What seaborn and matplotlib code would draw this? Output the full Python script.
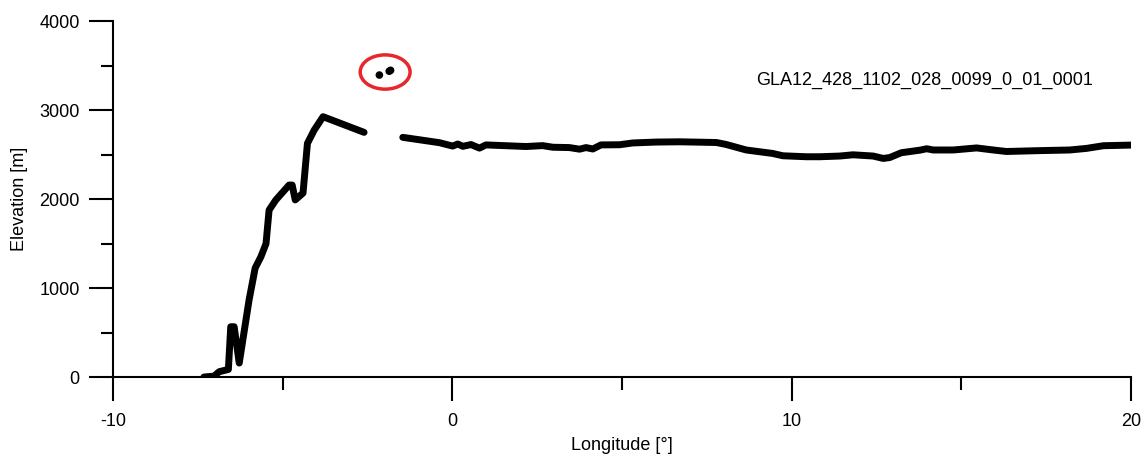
import numpy as np
import pandas as pd
import matplotlib
matplotlib.use("Agg")
import matplotlib.pyplot as plt
from matplotlib.patches import Ellipse
from matplotlib.ticker import MultipleLocator
import seaborn as sns

# profile west of the gap (climb onto the plateau)
lon_west = [-7.32, -7.02, -6.87, -6.60, -6.53, -6.43, -6.28, -5.99, -5.81, -5.64,
            -5.49, -5.40, -5.20, -4.81, -4.72, -4.63, -4.40, -4.27, -4.07, -3.81, -2.60]
elev_west = [0, 10, 60, 85, 565, 565, 157, 865, 1225, 1352,
             1500, 1876, 1990, 2157, 2157, 1990, 2067, 2625, 2775, 2925, 2749]

# profile east of the gap
lon_east = [-1.46, -0.38, 0.01, 0.16, 0.31, 0.55, 0.80, 0.99, 1.58, 2.17,
            2.66, 2.96, 3.45, 3.75, 3.94, 4.14, 4.38, 4.93, 5.32, 6.00,
            6.70, 7.78, 8.07, 8.66, 9.44, 9.74, 10.43, 10.83, 11.42, 11.81,
            12.40, 12.70, 12.89, 13.23, 13.78, 13.98, 14.17, 14.76, 15.45, 15.94,
            16.33, 17.22, 18.20, 18.69, 19.19, 20.00]
elev_east = [2693, 2633, 2595, 2618, 2592, 2612, 2572, 2608, 2599, 2590,
             2600, 2582, 2578, 2560, 2578, 2562, 2608, 2610, 2630, 2640,
             2643, 2635, 2613, 2551, 2512, 2486, 2475, 2475, 2483, 2497,
             2483, 2456, 2466, 2520, 2549, 2565, 2551, 2551, 2574, 2551,
             2534, 2543, 2551, 2569, 2599, 2606]

# outlier returns (circled)
lon_out = [-2.15, -1.86, -1.82]
elev_out = [3393, 3436, 3446]

track_name = "GLA12_428_1102_028_0099_0_01_0001"

sns.set_style("ticks")
plt.rcParams["font.family"] = ["Liberation Sans", "DejaVu Sans"]
plt.rcParams["axes.unicode_minus"] = False
for key in ["text.color", "axes.labelcolor", "xtick.color", "ytick.color", "axes.edgecolor"]:
    plt.rcParams[key] = "black"

profile = pd.DataFrame({
    "lon": lon_west + lon_east,
    "elev": elev_west + elev_east,
    "segment": ["west"] * len(lon_west) + ["east"] * len(lon_east),
})
outliers = pd.DataFrame({"lon": lon_out, "elev": elev_out})

fig = plt.figure(figsize=(11.46, 4.57), dpi=100)
ax = fig.add_axes([0.0986, 0.175, 0.8883, 0.779])

sns.lineplot(data=profile, x="lon", y="elev", units="segment", estimator=None,
             sort=False, color="black", linewidth=5, solid_capstyle="round",
             solid_joinstyle="round", ax=ax)
sns.scatterplot(data=outliers, x="lon", y="elev", color="black", s=30,
                edgecolor="none", ax=ax)

ax.add_patch(Ellipse((-1.98, 3427), 1.47, 385, fill=False, edgecolor="#e8262b",
                     linewidth=2.5))
ax.text(8.95, 3337, track_name, fontsize=13, va="center", ha="left")

ax.set_xlim(-10, 20)
ax.set_ylim(0, 4000)
ax.xaxis.set_major_locator(MultipleLocator(10))
ax.xaxis.set_minor_locator(MultipleLocator(5))
ax.yaxis.set_major_locator(MultipleLocator(1000))
ax.yaxis.set_minor_locator(MultipleLocator(500))
ax.tick_params(which="major", length=17, width=1.5, labelsize=13, pad=7)
ax.tick_params(which="minor", length=9, width=1.5)
ax.tick_params(axis="x", which="major", pad=9)

sns.despine(ax=ax)
for side in ["left", "bottom"]:
    ax.spines[side].set_linewidth(1.5)

ax.set_xlabel("Longitude [°]", fontsize=13, labelpad=5)
ax.set_ylabel("Elevation [m]", fontsize=13, labelpad=8)

fig.savefig("out.png", dpi=100)
